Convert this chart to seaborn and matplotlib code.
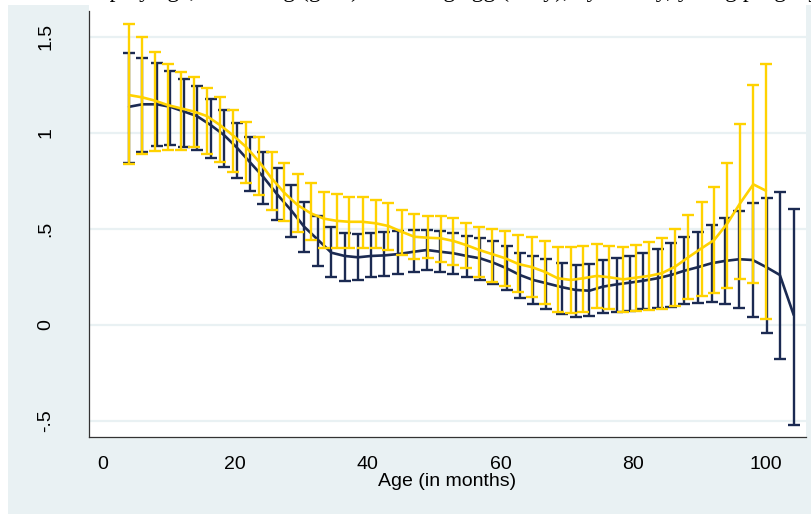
import matplotlib
matplotlib.use("Agg")
import matplotlib.pyplot as plt
import matplotlib.patches as mpatches
import seaborn as sns
import pandas as pd

# Age (months) at which each group's estimate is plotted
age_navy = [4.0, 6.0, 8.2, 10.2, 12.3, 14.2, 16.3, 18.3, 20.2, 22.2,
            24.2, 26.3, 28.4, 30.4, 32.5, 34.5, 36.5, 38.5, 40.5, 42.5,
            44.6, 46.9, 48.9, 50.9, 52.9, 54.9, 56.9, 58.9, 60.9, 62.9,
            64.9, 66.9, 69.3, 71.3, 73.4, 75.4, 77.5, 79.5, 81.5, 83.7,
            85.7, 87.7, 89.7, 91.8, 93.8, 96.0, 98.0, 100.1, 102.1, 104.2]
mean_navy = [1.135, 1.148, 1.148, 1.135, 1.110, 1.087, 1.040, 0.988, 0.924, 0.847,
             0.771, 0.680, 0.597, 0.510, 0.441, 0.375, 0.358, 0.351, 0.358, 0.361,
             0.368, 0.380, 0.389, 0.380, 0.372, 0.358, 0.346, 0.323, 0.294, 0.259,
             0.233, 0.216, 0.195, 0.181, 0.177, 0.198, 0.210, 0.219, 0.229, 0.242,
             0.259, 0.281, 0.299, 0.320, 0.332, 0.341, 0.337, 0.299, 0.259, 0.050]
lo_navy = [0.844, 0.900, 0.931, 0.936, 0.927, 0.910, 0.867, 0.820, 0.762, 0.698,
           0.627, 0.545, 0.458, 0.380, 0.306, 0.250, 0.229, 0.233, 0.250, 0.255,
           0.262, 0.276, 0.285, 0.276, 0.264, 0.247, 0.233, 0.212, 0.181, 0.140,
           0.108, 0.080, 0.056, 0.042, 0.045, 0.063, 0.068, 0.073, 0.080, 0.085,
           0.094, 0.108, 0.115, 0.120, 0.108, 0.085, 0.042, -0.042, -0.179, -0.522]
hi_navy = [1.417, 1.390, 1.361, 1.323, 1.280, 1.243, 1.174, 1.118, 1.049, 0.979,
           0.901, 0.815, 0.727, 0.638, 0.566, 0.507, 0.476, 0.472, 0.479, 0.484,
           0.488, 0.493, 0.493, 0.490, 0.479, 0.464, 0.450, 0.438, 0.410, 0.376,
           0.356, 0.341, 0.323, 0.311, 0.316, 0.337, 0.346, 0.358, 0.372, 0.393,
           0.424, 0.455, 0.484, 0.519, 0.554, 0.594, 0.635, 0.658, 0.690, 0.604]

age_gold = [4.0, 6.0, 7.9, 9.8, 11.8, 13.8, 15.7, 17.7, 19.6, 21.6,
            23.6, 25.5, 27.4, 29.4, 31.4, 33.4, 35.3, 37.2, 39.2, 41.2,
            43.1, 45.1, 47.0, 49.0, 51.0, 52.9, 54.8, 56.8, 58.7, 60.7,
            62.7, 64.7, 66.7, 68.6, 70.6, 72.5, 74.5, 76.4, 78.5, 80.4,
            82.4, 84.3, 86.3, 88.3, 90.3, 92.2, 94.2, 96.1, 98.1, 100.0]
mean_gold = [1.196, 1.184, 1.167, 1.144, 1.127, 1.110, 1.087, 1.040, 0.988, 0.927,
             0.849, 0.762, 0.687, 0.623, 0.580, 0.552, 0.541, 0.536, 0.536, 0.528,
             0.514, 0.484, 0.458, 0.453, 0.450, 0.436, 0.415, 0.389, 0.368, 0.346,
             0.316, 0.300, 0.275, 0.242, 0.233, 0.242, 0.254, 0.247, 0.236, 0.245,
             0.254, 0.268, 0.302, 0.351, 0.398, 0.441, 0.528, 0.632, 0.731, 0.698]
lo_gold = [0.837, 0.887, 0.905, 0.910, 0.910, 0.924, 0.889, 0.849, 0.797, 0.740,
           0.675, 0.600, 0.542, 0.484, 0.441, 0.402, 0.398, 0.398, 0.398, 0.398,
           0.389, 0.363, 0.340, 0.346, 0.328, 0.311, 0.294, 0.247, 0.224, 0.200,
           0.172, 0.146, 0.110, 0.065, 0.063, 0.068, 0.085, 0.082, 0.068, 0.073,
           0.077, 0.080, 0.097, 0.132, 0.151, 0.163, 0.190, 0.236, 0.219, 0.028]
hi_gold = [1.564, 1.500, 1.420, 1.360, 1.316, 1.292, 1.234, 1.184, 1.118, 1.054,
           0.979, 0.901, 0.840, 0.783, 0.736, 0.690, 0.680, 0.667, 0.663, 0.650,
           0.632, 0.600, 0.575, 0.568, 0.568, 0.554, 0.531, 0.510, 0.498, 0.490,
           0.467, 0.455, 0.438, 0.406, 0.403, 0.410, 0.419, 0.410, 0.406, 0.415,
           0.432, 0.450, 0.497, 0.570, 0.641, 0.719, 0.844, 1.045, 1.248, 1.360]

x_ticks = [0, 20, 40, 60, 80, 100]
y_ticks = [-0.5, 0, 0.5, 1, 1.5]
y_tick_labels = ["-.5", "0", ".5", "1", "1.5"]
x_title = "Age (in months)"
title = "Gap by age, not eating (gold) vs. eating egg (navy), by survey, young progeny"

NAVY = "#1b2a52"
GOLD = "#ffd200"
REGION = "#e9f1f3"

sns.set_theme(style="white")
plt.rcParams["font.family"] = ["Liberation Sans Narrow", "Liberation Sans", "DejaVu Sans"]

W, H = 812, 514
fig = plt.figure(figsize=(W / 100, H / 100), dpi=100, facecolor="white")

# graph region background
fig.patches.append(mpatches.Rectangle((8 / W, 0), 1 - 8 / W, (H - 5) / H,
                                      transform=fig.transFigure, facecolor=REGION,
                                      edgecolor="none", zorder=-2))
# white strip above the plot region
fig.patches.append(mpatches.Rectangle((89.3 / W, (H - 12) / H), (805.7 - 89.3) / W, 12 / H,
                                      transform=fig.transFigure, facecolor="white",
                                      edgecolor="none", zorder=-1))

left, right, top, bottom = 89.3, 805.7, 11, 437
ax = fig.add_axes([left / W, (H - bottom) / H, (right - left) / W, (bottom - top) / H])
ax.set_zorder(2)
ax.set_facecolor("white")

navy_df = pd.DataFrame({"age": age_navy, "mean": mean_navy, "lo": lo_navy, "hi": hi_navy})
gold_df = pd.DataFrame({"age": age_gold, "mean": mean_gold, "lo": lo_gold, "hi": hi_gold})

for y in y_ticks:
    ax.axhline(y, color=REGION, lw=1.6, zorder=0.5)

for df, col, z in [(navy_df, NAVY, 2), (gold_df, GOLD, 4)]:
    ax.errorbar(df["age"], df["mean"],
                yerr=[df["mean"] - df["lo"], df["hi"] - df["mean"]],
                fmt="none", ecolor=col, elinewidth=1.7, capsize=4.2, capthick=1.7, zorder=z)
    sns.lineplot(data=df, x="age", y="mean", color=col, lw=1.9, ax=ax,
                 estimator=None, sort=False, zorder=z + 1)

ax.set_xlim(-2.0, 106.0)
ax.set_ylim(-0.585, 1.634)
ax.set_xticks(x_ticks)
ax.set_xticklabels([str(t) for t in x_ticks])
ax.set_yticks(y_ticks)
ax.set_yticklabels(y_tick_labels, rotation=90, va="center")
ax.tick_params(axis="both", which="major", direction="out", length=7, width=0.9,
               color="#333333", labelsize=14, labelcolor="black")
ax.tick_params(axis="x", pad=7)
ax.tick_params(axis="y", pad=18)

for s in ["top", "right"]:
    ax.spines[s].set_visible(False)
for s in ["left", "bottom"]:
    ax.spines[s].set_color("#333333")
    ax.spines[s].set_linewidth(0.9)

ax.set_xlabel(x_title, fontsize=14, labelpad=0, color="black")
ax.set_ylabel("")

fig.text(0.555, 1.0 + 3 / H, title, ha="center", va="baseline", fontsize=17,
         family=["Liberation Serif", "DejaVu Serif"], color="black")

fig.savefig("out.png", dpi=100, facecolor="white")
